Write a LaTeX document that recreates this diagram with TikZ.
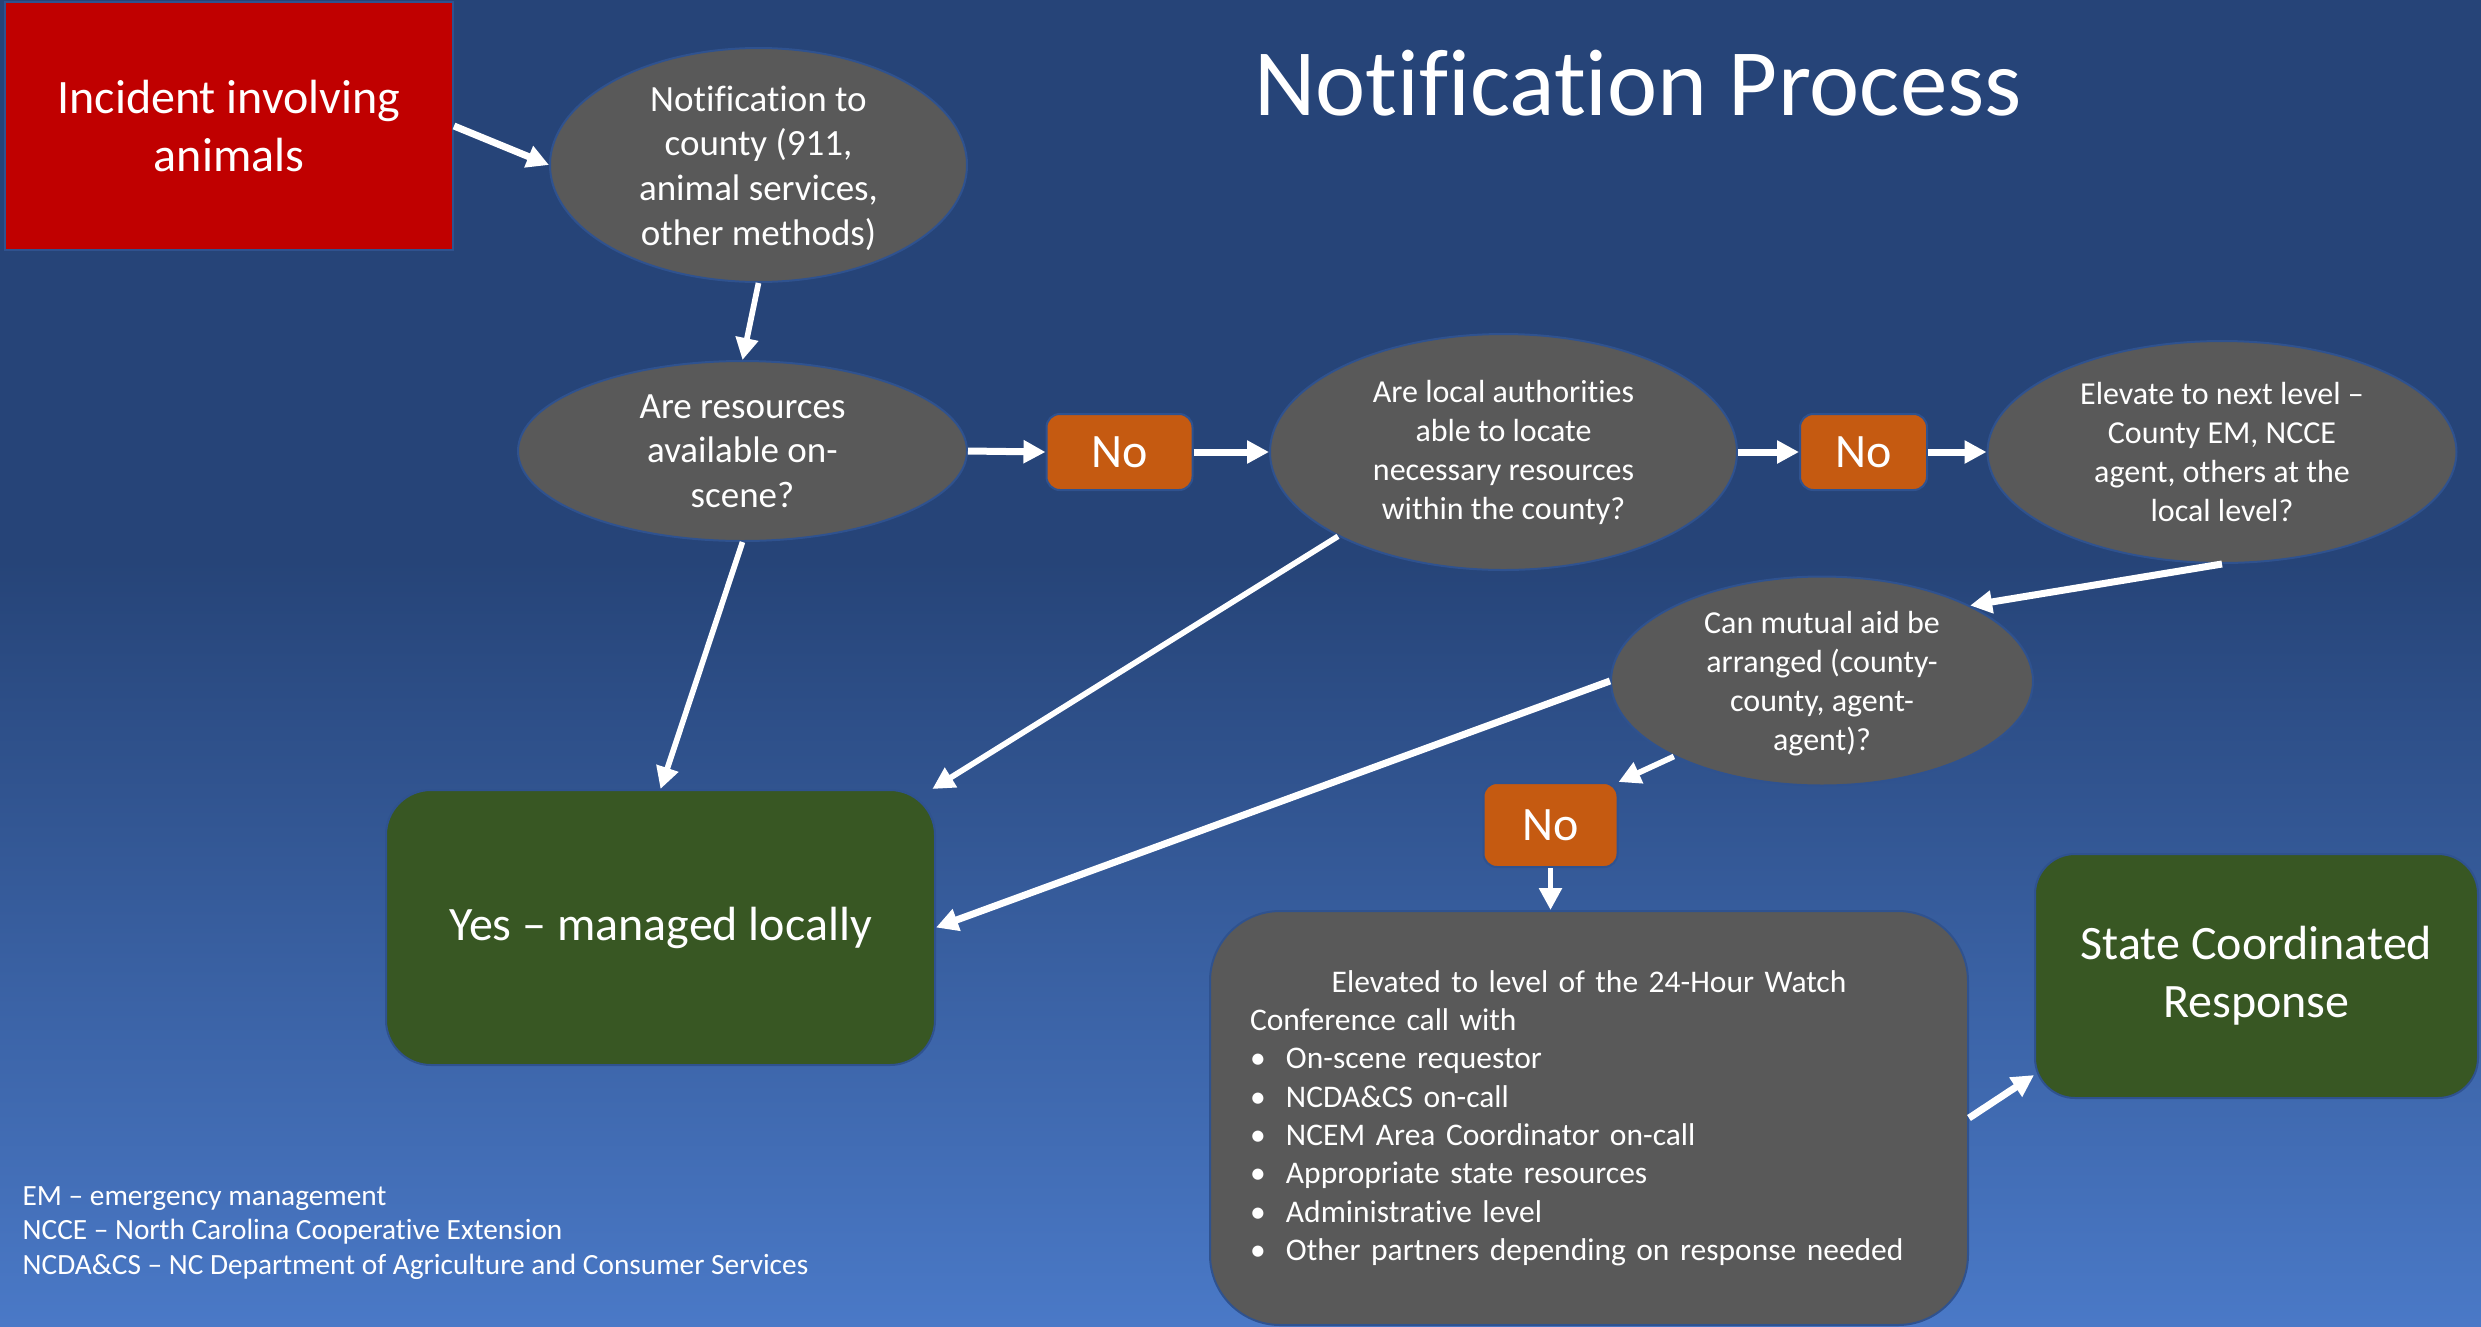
\documentclass[tikz,border=0pt]{standalone}
\usepackage{fontspec}
\setmainfont{Carlito}[Ligatures=NoCommon]
\usepackage{tikz}
\usetikzlibrary{shapes.geometric, arrows.meta}

\definecolor{bgtop}{HTML}{264478}
\definecolor{bgbottom}{HTML}{4A79C7}
\definecolor{slate}{HTML}{595959}
\definecolor{alarm}{HTML}{C00000}
\definecolor{rust}{HTML}{C55A11}
\definecolor{moss}{HTML}{385723}
\definecolor{rim}{HTML}{2F528F}

\begin{document}
\begin{tikzpicture}[x=0.3pt, y=-0.3pt,
    bigfont/.style={font=\fontsize{14.4pt}{17.5pt}\selectfont},
    midfont/.style={font=\fontsize{11.1pt}{13.4pt}\selectfont},
    smallfont/.style={font=\fontsize{9.6pt}{11.7pt}\selectfont},
    notefont/.style={font=\fontsize{8.8pt}{10.45pt}\selectfont},
    bubble/.style={ellipse, draw=rim, line width=0.6pt, fill=slate},
    bubbletext/.style={text=white, align=center, inner sep=0pt},
    nobox/.style={rectangle, rounded corners=4pt, draw=rim, line width=0.6pt, fill=rust, text=white, bigfont},
    outcome/.style={rectangle, draw=rim, line width=0.6pt, fill=moss, text=white, align=center, bigfont},
    flow/.style={draw=white, line width=1.7pt, -{Triangle[length=6.6pt, width=6.6pt]}},
    bold flow/.style={flow, line width=2.1pt}]

    % Background
    \useasboundingbox (0,0) rectangle (2481,1326);
    \fill[bgtop] (0,0) rectangle (2481,561);
    \fill[top color=bgtop, bottom color=bgbottom] (0,560) rectangle (2481,1326);

    % Title
    \node[text=white, font=\fontsize{28.5pt}{34pt}\selectfont, anchor=base] (title) at (1638,115) {Notification Process};

    % Start box
    \node[rectangle, draw=rim, line width=0.6pt, fill=alarm, minimum width=134.4pt, minimum height=74.4pt, text=white, align=center, bigfont] (incident) at (229,126) {Incident involving\\animals};

    % Question bubbles
    \node[bubble, minimum width=125.1pt, minimum height=70.2pt] (notify) at (758.5,165) {};
    \node[bubbletext, midfont] (notifytext) at (758.5,168) {Notification to\\county (911,\\animal services,\\other methods)};

    \node[bubble, minimum width=134.7pt, minimum height=54pt] (resq) at (742.5,451) {};
    \node[bubbletext, midfont] (resqtext) at (resq) {Are resources\\available on-\\scene?};

    \node[bubble, minimum width=140.1pt, minimum height=70.8pt] (local) at (1503.5,452) {};
    \node[bubbletext, smallfont] (localtext) at (local) {Are local authorities\\able to locate\\necessary resources\\within the county?};

    \node[bubble, minimum width=140.7pt, minimum height=66.6pt] (elev) at (2222,452) {};
    \node[bubbletext, smallfont] (elevtext) at (elev) {Elevate to next level –\\County EM, NCCE\\agent, others at the\\local level?};

    \node[bubble, minimum width=126.6pt, minimum height=62.7pt] (mutual) at (1822,681) {};
    \node[bubbletext, smallfont] (mutualtext) at (1822,684) {Can mutual aid be\\arranged (county-\\county, agent-\\agent)?};

    % No boxes
    \node[nobox, minimum width=43.8pt, minimum height=22.8pt] (no1) at (1119.5,452) {No};
    \node[nobox, minimum width=38.1pt, minimum height=22.8pt] (no2) at (1863.5,452) {No};
    \node[nobox, minimum width=40.2pt, minimum height=25.2pt] (no3) at (1550.5,825) {No};

    % Outcomes
    \node[outcome, rounded corners=13.5pt, minimum width=164.7pt, minimum height=82.5pt] (yes) at (660.5,927.5) {Yes – managed locally};
    \node[outcome, rounded corners=12pt, minimum width=132.9pt, minimum height=73.2pt] (state) at (2256.5,976) {State Coordinated\\Response};

    % 24-hour watch box
    \node[rectangle, rounded corners=21pt, draw=rim, line width=0.6pt, fill=slate, minimum width=227.4pt, minimum height=124.2pt, text width=203.4pt, inner sep=0pt, align=left, text=white, font=\fontsize{9.45pt}{11.5pt}\selectfont] (watch) at (1589,1118)
        {\makebox[203.4pt]{Elevated to level of the 24-Hour Watch}\\
         Conference call with\\
         \makebox[10.8pt][l]{\textbullet}On-scene requestor\\
         \makebox[10.8pt][l]{\textbullet}NCDA\&CS on-call\\
         \makebox[10.8pt][l]{\textbullet}NCEM Area Coordinator on-call\\
         \makebox[10.8pt][l]{\textbullet}Appropriate state resources\\
         \makebox[10.8pt][l]{\textbullet}Administrative level\\
         \makebox[10.8pt][l]{\textbullet}Other partners depending on response needed};

    % Glossary
    \node[anchor=west, align=left, inner sep=0pt, text=white, notefont] (glossary) at (22,1233)
        {EM – emergency management\\NCCE – North Carolina Cooperative Extension\\NCDA\&CS – NC Department of Agriculture and Consumer Services};

    % Connectors
    \draw[bold flow] (incident.east) -- (notify.west);
    \draw[flow] (notify.south) -- (resq.north);
    \draw[bold flow] (resq.east) -- (no1.west);
    \draw[bold flow] (no1.east) -- (local.west);
    \draw[bold flow] (local.east) -- (no2.west);
    \draw[bold flow] (no2.east) -- (elev.west);
    \draw[bold flow] (elev.south) -- (mutual.27);
    \draw[flow] (mutual.207) -- (no3.north east);
    \draw[flow] (no3.south) -- (no3.south |- watch.north);
    \draw[bold flow] (watch.east) -- (state.204.5);
    \draw[flow] (resq.south) -- (yes.north);
    \draw[flow] (local.207) -- (yes.27);
    \draw[bold flow] (mutual.west) -- (yes.east);
\end{tikzpicture}
\end{document}
